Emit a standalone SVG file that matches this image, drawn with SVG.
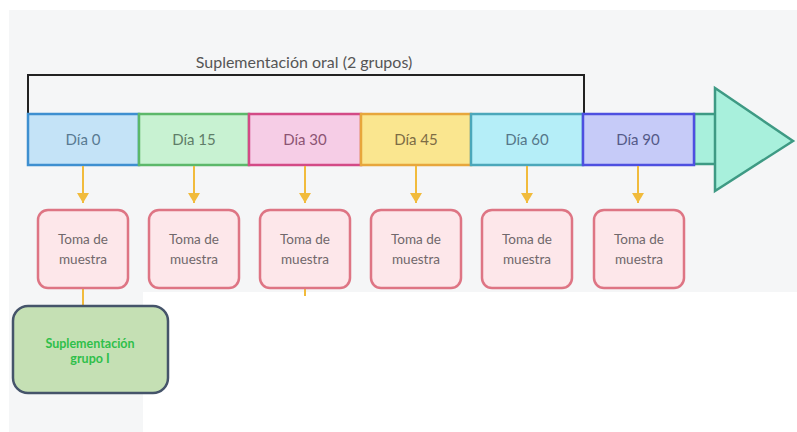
<svg xmlns="http://www.w3.org/2000/svg" width="797" height="432" viewBox="0 0 797 432">
<defs>
<style>
.day{stroke-width:2.5}
.dt{font-family:Lato,"Liberation Sans",sans-serif;font-size:15px;text-anchor:middle}
.sample rect{fill:#fde7ea;stroke:#de7584;stroke-width:2.5}
.sample text{font-family:Lato,"Liberation Sans",sans-serif;font-size:13.5px;fill:#70686b;text-anchor:middle}
.conn{stroke:#f1bb3c;stroke-width:2;fill:none}
.gt{font-family:Lato,"Liberation Sans",sans-serif;font-size:12.5px;font-weight:bold;fill:#2fbf4a;text-anchor:middle}
</style>
<marker id="ah" markerWidth="10" markerHeight="12" refX="10" refY="6" orient="auto" markerUnits="userSpaceOnUse" viewBox="0 0 10 12">
<path d="M0,0 L10,6 L0,12 Z" fill="#f1bb3c"/>
</marker>
</defs>
<rect width="797" height="432" fill="#ffffff"/>
<rect x="9" y="10" width="788" height="282" fill="#f5f6f7"/>
<rect x="9" y="292" width="134" height="140" fill="#f5f6f7"/>

<g id="bracket">
<text x="304" y="68" font-family="Lato,'Liberation Sans',sans-serif" font-size="16" fill="#555" text-anchor="middle">Suplementación oral (2 grupos)</text>
<path d="M28,113 V75 H584 V113" fill="none" stroke="#222" stroke-width="2"/>
</g>

<g id="arrowhead">
<rect x="694" y="114" width="23" height="50" fill="#a8f0dc" stroke="#3e9a84" stroke-width="2.5"/>
<path d="M715,88 L793,141 L715,191 Z" fill="#a8f0dc" stroke="#3e9a84" stroke-width="2.5" stroke-linejoin="miter"/>
</g>

<g id="dia0"><rect class="day" x="28" y="114" width="111" height="51" fill="#c4e3f7" stroke="#3e8fd0"/><text class="dt" x="83" y="145" fill="#587a92">Día 0</text></g>
<g id="dia15"><rect class="day" x="139" y="114" width="110" height="51" fill="#c8f2d2" stroke="#5cb86a"/><text class="dt" x="194" y="145" fill="#5f7d68">Día 15</text></g>
<g id="dia30"><rect class="day" x="249" y="114" width="112" height="51" fill="#f6cde6" stroke="#d34a86"/><text class="dt" x="305" y="145" fill="#8c5473">Día 30</text></g>
<g id="dia45"><rect class="day" x="361" y="114" width="110" height="51" fill="#fae68f" stroke="#e7a63c"/><text class="dt" x="416" y="145" fill="#7d6c45">Día 45</text></g>
<g id="dia60"><rect class="day" x="471" y="114" width="112" height="51" fill="#b5eef8" stroke="#4ba7ba"/><text class="dt" x="527" y="145" fill="#55778a">Día 60</text></g>
<g id="dia90"><rect class="day" x="583" y="114" width="111" height="51" fill="#c6cbf8" stroke="#4d4fe0"/><text class="dt" x="638" y="145" fill="#555a88">Día 90</text></g>

<g id="connectors">
<path class="conn" d="M83,166 V203" marker-end="url(#ah)"/>
<path class="conn" d="M194,166 V203" marker-end="url(#ah)"/>
<path class="conn" d="M305,166 V203" marker-end="url(#ah)"/>
<path class="conn" d="M416,166 V203" marker-end="url(#ah)"/>
<path class="conn" d="M527,166 V203" marker-end="url(#ah)"/>
<path class="conn" d="M638,166 V203" marker-end="url(#ah)"/>
<path class="conn" d="M83,288 V306"/>
<path class="conn" d="M305,288 V296"/>
</g>

<g id="sample0" class="sample"><rect x="38" y="210" width="90" height="78" rx="10"/><text x="83" y="244">Toma de</text><text x="83" y="264">muestra</text></g>
<g id="sample15" class="sample"><rect x="149" y="210" width="90" height="78" rx="10"/><text x="194" y="244">Toma de</text><text x="194" y="264">muestra</text></g>
<g id="sample30" class="sample"><rect x="260" y="210" width="90" height="78" rx="10"/><text x="305" y="244">Toma de</text><text x="305" y="264">muestra</text></g>
<g id="sample45" class="sample"><rect x="371" y="210" width="90" height="78" rx="10"/><text x="416" y="244">Toma de</text><text x="416" y="264">muestra</text></g>
<g id="sample60" class="sample"><rect x="482" y="210" width="90" height="78" rx="10"/><text x="527" y="244">Toma de</text><text x="527" y="264">muestra</text></g>
<g id="sample90" class="sample"><rect x="594" y="210" width="90" height="78" rx="10"/><text x="639" y="244">Toma de</text><text x="639" y="264">muestra</text></g>

<g id="grupo1">
<rect x="13" y="306" width="155" height="87" rx="15" fill="#c5e0b4" stroke="#45546a" stroke-width="2.5"/>
<text class="gt" x="90" y="348">Suplementación</text>
<text class="gt" x="90" y="363">grupo I</text>
</g>
</svg>
